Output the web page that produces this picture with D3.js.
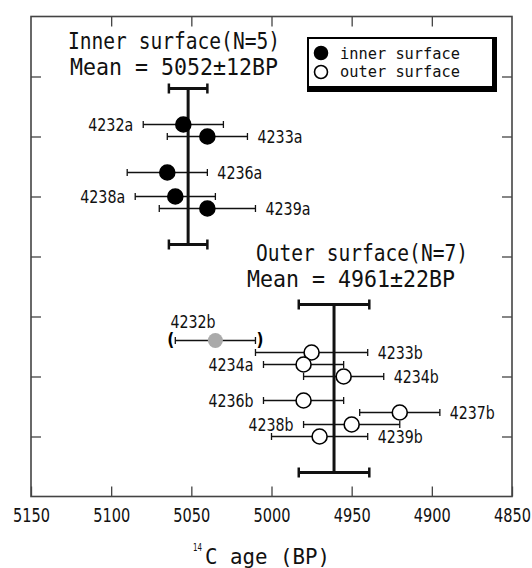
<!DOCTYPE html>
<html lang="en">
<head>
<meta charset="UTF-8">
<title>14C age</title>
<script src="https://cdn.jsdelivr.net/npm/d3@7"></script>
<style>
    body { margin: 0; background: #fff; }
    .mono { font-family: 'DejaVu Sans Mono', monospace; }
    .narrow { font-family: 'DejaVu Sans Condensed', 'DejaVu Sans', sans-serif; }
</style>
</head>
<body>
<script>
    // inner surface samples
    const innerLabels = ['4232a', '4233a', '4236a', '4238a', '4239a']
    const innerAge = [5055, 5040, 5065, 5060, 5040]
    const innerErr = [25, 25, 25, 25, 30]
    const innerRow = [1.8, 2.0, 2.6, 3.0, 3.2]

    // outer surface samples
    const outerLabels = ['4232b', '4233b', '4234a', '4234b', '4236b', '4237b', '4238b', '4239b']
    const outerAge = [5035, 4975, 4980, 4955, 4980, 4920, 4950, 4970]
    const outerErr = [25, 35, 25, 25, 25, 25, 30, 30]
    const outerRow = [5.4, 5.6, 5.8, 6.0, 6.4, 6.6, 6.8, 7.0]
    const excluded = ['4232b']

    // weighted means
    const meanAge = [5052, 4961]
    const meanErr = [12, 22]
    const meanRows = [[1.2, 3.8], [4.8, 7.6]]
    const meanTitles = [['Inner surface(N=5)', 'Mean = 5052±12BP'], ['Outer surface(N=7)', 'Mean = 4961±22BP']]

    const xTicks = [5150, 5100, 5050, 5000, 4950, 4900, 4850]
    const yTicks = [1, 2, 3, 4, 5, 6, 7]
    const legendLabels = ['inner surface', 'outer surface']

    // where each sample label sits
    const labelSide = {
        '4232a': 'left', '4233a': 'right', '4236a': 'right', '4238a': 'left', '4239a': 'right',
        '4232b': 'top', '4233b': 'right', '4234a': 'left', '4234b': 'right', '4236b': 'left',
        '4237b': 'right', '4238b': 'left', '4239b': 'right'
    }

    const [width, height] = [532, 568]
    const x = d3.scaleLinear().domain([5150, 4850]).range([31, 512])
    const y = d3.scaleLinear().domain([0, 8]).range([16.5, 496.5])

    const svg = d3.select('body').append('svg')
        .attr('width', width)
        .attr('height', height)

    const samples = innerLabels.map((name, i) => ({name, age: innerAge[i], err: innerErr[i], row: innerRow[i], group: 'inner'}))
        .concat(outerLabels.map((name, i) => ({name, age: outerAge[i], err: outerErr[i], row: outerRow[i], group: 'outer'})))

    // axes, ticks pointing inward
    const axisStyle = g => {
        g.select('.domain').remove()
        g.selectAll('.tick line').attr('stroke', '#444').attr('stroke-width', 1.3)
    }
    svg.append('g')
        .attr('transform', `translate(0,${y(8)})`)
        .call(d3.axisBottom(x).tickValues(xTicks).tickSizeInner(-10).tickSizeOuter(0).tickPadding(11).tickFormat(d3.format('d')))
        .call(axisStyle)
        .call(g => g.selectAll('.tick text').attr('class', 'narrow').attr('font-size', 20).attr('fill', '#111')
            .attr('textLength', 37).attr('lengthAdjust', 'spacingAndGlyphs'))
    svg.append('g')
        .attr('transform', `translate(0,${y(0)})`)
        .call(d3.axisTop(x).tickValues(xTicks.slice(1, -1)).tickSizeInner(-10).tickSizeOuter(0).tickFormat(''))
        .call(axisStyle)
    svg.append('g')
        .attr('transform', `translate(${x(5150)},0)`)
        .call(d3.axisLeft(y).tickValues(yTicks).tickSizeInner(-10).tickSizeOuter(0).tickFormat(''))
        .call(axisStyle)
    svg.append('g')
        .attr('transform', `translate(${x(4850)},0)`)
        .call(d3.axisRight(y).tickValues(yTicks).tickSizeInner(-10).tickSizeOuter(0).tickFormat(''))
        .call(axisStyle)

    svg.append('rect')
        .attr('x', x(5150)).attr('y', y(0))
        .attr('width', x(4850) - x(5150)).attr('height', y(8) - y(0))
        .attr('fill', 'none').attr('stroke', '#444').attr('stroke-width', 1.6)

    // axis title
    svg.append('text').attr('class', 'narrow').attr('x', 193).attr('y', 551).attr('fill', '#111')
        .attr('font-size', 11).attr('textLength', 9).attr('lengthAdjust', 'spacingAndGlyphs').text('14')
    svg.append('text').attr('class', 'mono').attr('x', 205).attr('y', 564).attr('fill', '#111')
        .attr('font-size', 22).attr('textLength', 125).attr('lengthAdjust', 'spacingAndGlyphs').text('C age  (BP)')

    // individual error bars
    const bars = svg.append('g').attr('stroke', '#111').attr('stroke-width', 1.3)
    bars.selectAll('line.err').data(samples).join('line').attr('class', 'err')
        .attr('x1', d => x(d.age + d.err)).attr('x2', d => x(d.age - d.err))
        .attr('y1', d => y(d.row)).attr('y2', d => y(d.row))
    bars.selectAll('line.capL').data(samples).join('line').attr('class', 'capL')
        .attr('x1', d => x(d.age + d.err)).attr('x2', d => x(d.age + d.err))
        .attr('y1', d => y(d.row) - 3.5).attr('y2', d => y(d.row) + 3.5)
    bars.selectAll('line.capR').data(samples).join('line').attr('class', 'capR')
        .attr('x1', d => x(d.age - d.err)).attr('x2', d => x(d.age - d.err))
        .attr('y1', d => y(d.row) - 3.5).attr('y2', d => y(d.row) + 3.5)

    // mean bars
    const means = meanAge.map((m, i) => ({age: m, err: meanErr[i], rows: meanRows[i]}))
    const mg = svg.append('g').attr('stroke', '#111').attr('stroke-width', 3)
    means.forEach(d => {
        mg.append('line')
            .attr('x1', x(d.age)).attr('x2', x(d.age))
            .attr('y1', y(d.rows[0])).attr('y2', y(d.rows[1]))
        d.rows.forEach(r => {
            mg.append('line')
                .attr('x1', x(d.age + d.err)).attr('x2', x(d.age - d.err))
                .attr('y1', y(r)).attr('y2', y(r))
            ;[d.age + d.err, d.age - d.err].forEach(v => {
                mg.append('line')
                    .attr('x1', x(v)).attr('x2', x(v))
                    .attr('y1', y(r) - 5).attr('y2', y(r) + 5)
                    .attr('stroke-width', 2.5)
            })
        })
    })

    // points
    svg.selectAll('circle.pt').data(samples).join('circle').attr('class', 'pt')
        .attr('cx', d => x(d.age)).attr('cy', d => y(d.row)).attr('r', 7.5)
        .attr('fill', d => excluded.includes(d.name) ? '#aaa' : d.group === 'inner' ? '#000' : '#fff')
        .attr('stroke', d => excluded.includes(d.name) ? 'none' : '#000')
        .attr('stroke-width', 1.6)

    // brackets around excluded sample
    samples.filter(d => excluded.includes(d.name)).forEach(d => {
        svg.append('text').attr('class', 'narrow').attr('font-size', 17).attr('font-weight', 'bold')
            .attr('x', x(d.age + d.err) - 1).attr('y', y(d.row)).attr('dy', '0.35em')
            .attr('text-anchor', 'end').text('(')
        svg.append('text').attr('class', 'narrow').attr('font-size', 17).attr('font-weight', 'bold')
            .attr('x', x(d.age - d.err) + 1).attr('y', y(d.row)).attr('dy', '0.35em')
            .text(')')
    })

    // sample labels
    svg.selectAll('text.lab').data(samples).join('text').attr('class', 'lab narrow')
        .attr('font-size', 18).attr('fill', '#111')
        .attr('textLength', 45).attr('lengthAdjust', 'spacingAndGlyphs')
        .attr('x', d => {
            const s = labelSide[d.name]
            if (s === 'right') return x(d.age - d.err) + 10
            if (s === 'left') return x(d.age + d.err) - 10
            return x(d.age)
        })
        .attr('y', d => labelSide[d.name] === 'top' ? y(d.row) - 13 : y(d.row))
        .attr('dy', d => labelSide[d.name] === 'top' ? 0 : '0.38em')
        .attr('text-anchor', d => labelSide[d.name] === 'right' ? 'start' : 'end')
        .text(d => d.name)

    // group titles
    const titlePos = [[68, 49], [256, 261]]
    meanTitles.forEach((t, i) => {
        const [tx, ty] = titlePos[i]
        svg.append('text').attr('class', 'mono').attr('font-size', 23).attr('fill', '#111')
            .attr('x', tx).attr('y', ty)
            .attr('textLength', 212).attr('lengthAdjust', 'spacingAndGlyphs').text(t[0])
        svg.append('text').attr('class', 'mono').attr('font-size', 23).attr('fill', '#111')
            .attr('x', tx - (i === 0 ? -2 : 9)).attr('y', ty + 26)
            .attr('textLength', 208).attr('lengthAdjust', 'spacingAndGlyphs').text(t[1])
    })

    // legend with shadowed box
    const lg = svg.append('g').attr('transform', 'translate(307,37)')
    lg.append('rect').attr('width', 190).attr('height', 55).attr('fill', '#000')
    lg.append('rect').attr('x', 2).attr('y', 2).attr('width', 183).attr('height', 47).attr('fill', '#fff')
    legendLabels.forEach((l, i) => {
        lg.append('circle').attr('cx', 14).attr('cy', 16 + i * 19).attr('r', 6.5)
            .attr('fill', i === 0 ? '#000' : '#fff').attr('stroke', '#000').attr('stroke-width', 1.6)
        lg.append('text').attr('class', 'mono').attr('font-size', 15.5).attr('fill', '#111')
            .attr('x', 33).attr('y', 22 + i * 18)
            .attr('textLength', 120).attr('lengthAdjust', 'spacingAndGlyphs').text(l)
    })
</script>
</body>
</html>
